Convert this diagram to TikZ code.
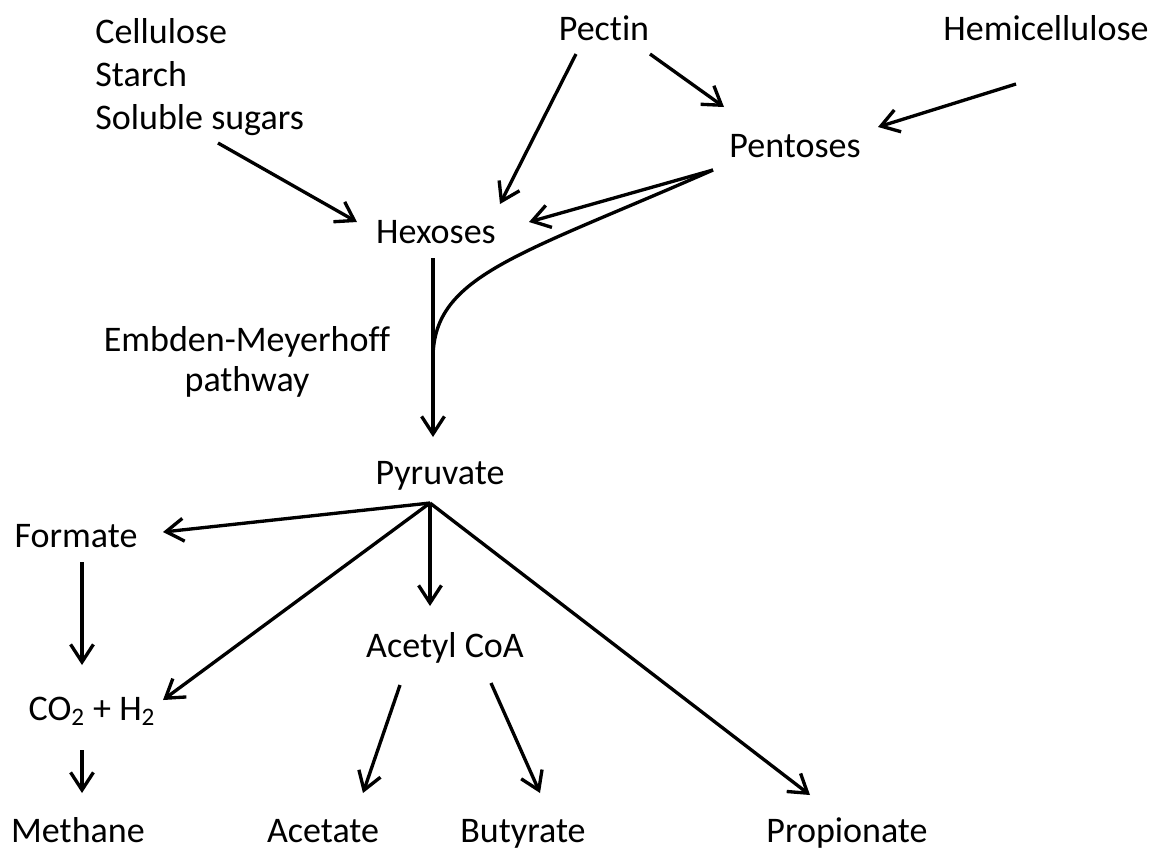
\documentclass[tikz,border=0pt]{standalone}
\usepackage{fontspec}
\setmainfont{Carlito}[Ligatures=NoCommon]
\usepackage{tikz}
\usetikzlibrary{arrows.meta, calc}
\tikzset{
  lbl/.style={font=\fontsize{20.5}{24.4}\selectfont, inner sep=0pt, align=center, anchor=base},
  blocklbl/.style={lbl, align=left, anchor=north west},
  arr/.style={-{Straight Barb[length=10pt, width=13pt]}, line width=1.9pt, draw=black},
  feed/.style={line width=1.9pt, draw=black},
}

\begin{document}
\begin{tikzpicture}[x=0.02cm, y=-0.02cm]
  \useasboundingbox (0,0) rectangle (1159,850);
  % substrates
  \node[blocklbl] (cellulose) at (95,18) {Cellulose\\Starch\\Soluble sugars};
  \node[lbl] (pectin) at (604,40) {Pectin};
  \node[lbl] (hemi) at (1046,40) {Hemicellulose};
  \node[lbl] (pentoses) at (795,157) {Pentoses};
  \node[lbl] (hexoses) at (436,243) {Hexoses};
  \node[lbl, font=\fontsize{20.5}{22.7}\selectfont] (emp) at (247,391) {Embden-Meyerhoff\\pathway};
  \node[lbl] (pyruvate) at (440,484) {Pyruvate};
  % products
  \node[lbl] (formate) at (76,547) {Formate};
  \node[lbl] (acetyl) at (445,657) {Acetyl CoA};
  \node[lbl] (co2) at (92,720) {CO\textsubscript{2} + H\textsubscript{2}};
  \node[lbl] (methane) at (78,842) {Methane};
  \node[lbl] (acetate) at (323,842) {Acetate};
  \node[lbl] (butyrate) at (523,842) {Butyrate};
  \node[lbl] (propionate) at (847,842) {Propionate};
  \coordinate (merge) at (433,357);

  \draw[arr] ($(cellulose.north west)+(123,125)$) -- ($(hexoses.base)+(-79,-21)$);
  \draw[arr] ($(pectin.base)+(-28,14)$) -- ($(hexoses.base)+(64,-39)$);
  \draw[arr] ($(pectin.base)+(46,14)$) -- ($(pentoses.base)+(-71,-50)$);
  \draw[arr] ($(hemi.base)+(-30,44)$) -- ($(pentoses.base)+(83,-30)$);
  \draw[arr] ($(pentoses.base)+(-82,13)$) -- ($(hexoses.base)+(93,-21)$);
  \draw[feed] ($(pentoses.base)+(-82,13)$) .. controls (520,255) and (434,275) .. (merge);
  \draw[arr] ($(hexoses.base)+(-3,15)$) -- ($(pyruvate.base)+(-7,-47)$);

  \draw[arr] ($(pyruvate.base)+(-10,19)$) -- ($(formate.base)+(87,-15)$);
  \draw[arr] ($(pyruvate.base)+(-10,19)$) -- ($(co2.base)+(71,-20)$);
  \draw[arr] ($(pyruvate.base)+(-10,19)$) -- ($(acetyl.base)+(-15,-51)$);
  \draw[arr] ($(pyruvate.base)+(-10,19)$) -- ($(propionate.base)+(-37,-47)$);
  \draw[arr] ($(formate.base)+(6,15)$) -- ($(co2.base)+(-10,-55)$);
  \draw[arr] ($(co2.base)+(-10,30)$) -- ($(methane.base)+(4,-49)$);
  \draw[arr] ($(acetyl.base)+(-45,28)$) -- ($(acetate.base)+(40,-49)$);
  \draw[arr] ($(acetyl.base)+(46,26)$) -- ($(butyrate.base)+(17,-49)$);
\end{tikzpicture}
\end{document}
